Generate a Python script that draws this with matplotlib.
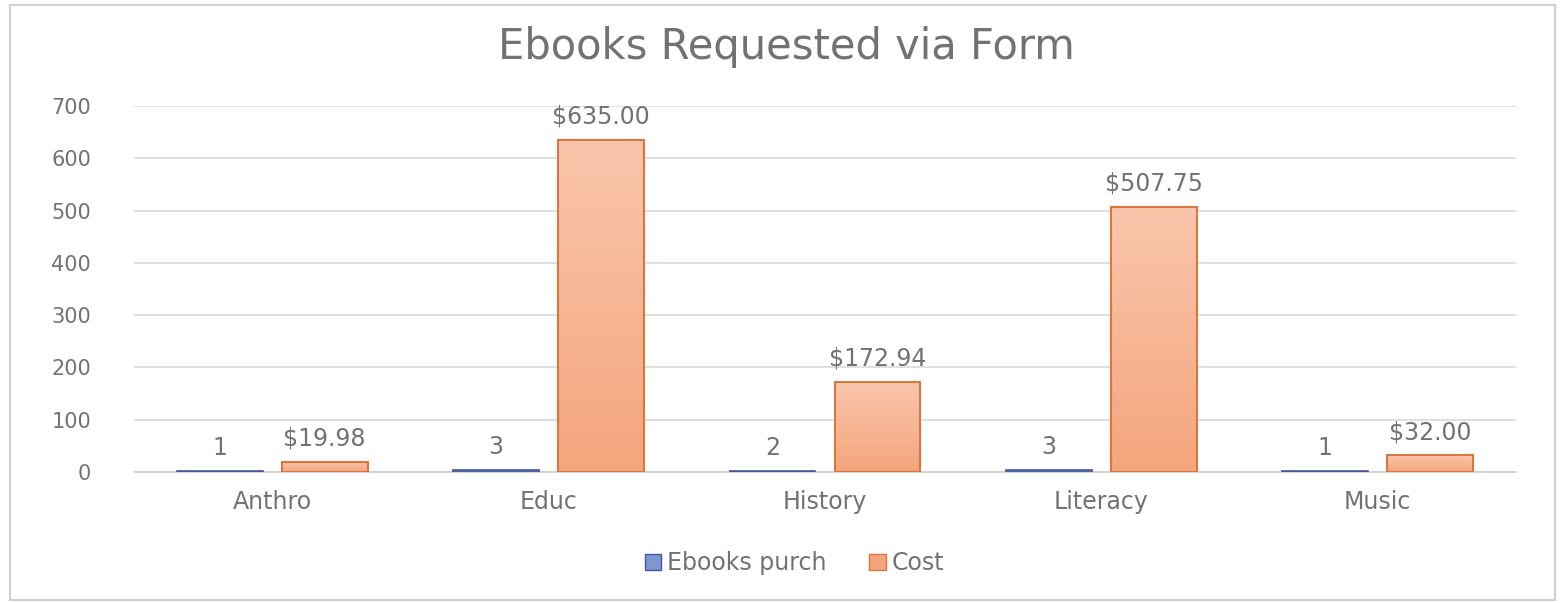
import matplotlib
matplotlib.use("Agg")
import matplotlib.pyplot as plt
import numpy as np
from matplotlib.patches import Rectangle, Patch
from matplotlib.colors import LinearSegmentedColormap

categories = ["Anthro", "Educ", "History", "Literacy", "Music"]
ebooks = [1, 3, 2, 3, 1]
cost = [19.98, 635.00, 172.94, 507.75, 32.00]
yticks = [0, 100, 200, 300, 400, 500, 600, 700]

plt.rcParams['font.family'] = ['DejaVu Sans']
txt = '#727272'

fig = plt.figure(figsize=(15.67, 6.03), dpi=100)
fig.patches.append(Rectangle((10/1567, 3/603), 1545/1567, 595/603, transform=fig.transFigure,
                             fill=False, edgecolor='#d0d0d0', linewidth=1.5))
ax = fig.add_axes([134/1567, 131/603, 1382/1567, 366/603])
x = np.arange(len(categories))
w = 0.31
off = 0.19
ax.bar(x - off, ebooks, w, color='#7f96cf', edgecolor='#3f5aa0', linewidth=1.2, zorder=3)
bars = ax.bar(x + off, cost, w, color='none', edgecolor='#d9773e', linewidth=1.5, zorder=4)
cmap = LinearSegmentedColormap.from_list('o', ['#f4a57c', '#f9c6ad'])
grad = np.linspace(0, 1, 256).reshape(-1, 1)
for b in bars:
    x0, y0, bw, bh = b.get_x(), b.get_y(), b.get_width(), b.get_height()
    im = ax.imshow(grad, cmap=cmap, aspect='auto', origin='lower',
                   extent=[x0, x0 + bw, y0, y0 + bh], zorder=3.5)
    im.set_clip_path(b)

for xi, v in zip(x, ebooks):
    ax.annotate(f"{v}", (xi - off, v), xytext=(0, 8), textcoords='offset points',
                ha='center', va='bottom', fontsize=17, color=txt)
for xi, v in zip(x, cost):
    ax.annotate(f"${v:,.2f}", (xi + off, v), xytext=(0, 8), textcoords='offset points',
                ha='center', va='bottom', fontsize=17, color=txt)

ax.set_xlim(-0.5, len(categories) - 0.5)
ax.set_ylim(0, 700)
ax.set_yticks(yticks)
ax.set_yticklabels([str(t) for t in yticks], fontsize=15, color=txt)
ax.set_xticks(x)
ax.set_xticklabels(categories, fontsize=17, color=txt)
ax.tick_params(axis='both', length=0)
ax.tick_params(axis='x', pad=13)
ax.tick_params(axis='y', pad=31)
ax.grid(axis='y', color='#d9d9d9', linewidth=1.2, zorder=0)
for s in ['top', 'right', 'left']:
    ax.spines[s].set_visible(False)
ax.spines['bottom'].set_color('#d0d0d0')
ax.spines['bottom'].set_linewidth(1.2)

fig.text(0.502, 0.922, "Ebooks Requested via Form", ha='center', va='center', fontsize=30, color='#727272')

handles = [Patch(facecolor='#7f96cf', edgecolor='#3f5aa0', label='Ebooks purch'),
           Patch(facecolor='#f4a57c', edgecolor='#d9773e', label='Cost')]
fig.legend(handles=handles, loc='center', bbox_to_anchor=(0.507, 0.066), ncol=2, frameon=False,
           fontsize=17, labelcolor=txt, handlelength=0.7, handleheight=0.7, handletextpad=0.25,
           columnspacing=1.8)

fig.savefig('out.png', dpi=100)
